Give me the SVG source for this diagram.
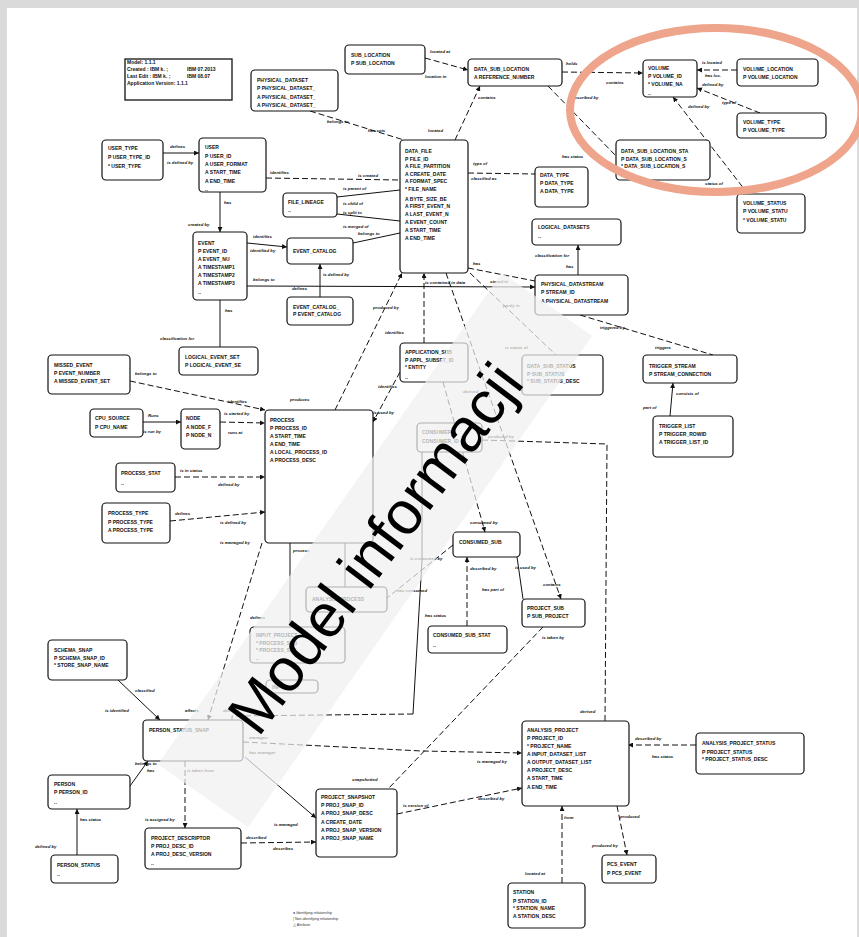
<svg xmlns="http://www.w3.org/2000/svg" width="859" height="937" viewBox="0 0 859 937">
<style>
.n rect{fill:#fff;stroke:#111;stroke-width:1.2}
.n text{font-family:"Liberation Sans",Arial,sans-serif;font-size:5px;font-weight:bold;fill:#111}
.c path{fill:none;stroke:#111;stroke-width:1}
.c .d{stroke-dasharray:6 3}
.lb text{font-family:"Liberation Sans",Arial,sans-serif;font-size:4.3px;font-weight:bold;font-style:italic;fill:#111}
.leg text{font-family:"Liberation Sans",Arial,sans-serif;font-size:5px;font-weight:bold;fill:#111}
</style>
<defs>
<marker id="a" viewBox="0 0 6 6" refX="6" refY="3" markerWidth="5" markerHeight="5" orient="auto" markerUnits="userSpaceOnUse"><path d="M0,0 L6,3 L0,6 z" fill="#111"/></marker>
</defs>
<rect width="859" height="937" fill="#dadada"/>
<rect x="7" y="8" width="850" height="929" fill="#fff"/>

<g id="legend" class="leg">
<rect x="125" y="59" width="107" height="41" fill="#fff" stroke="#111" stroke-width="1.3"/>
<text x="127" y="63.5">Model: 1.1.1</text>
<text x="127" y="70.5">Created : IBM k. ;</text><text x="187" y="70.5">IBM   07.2013</text>
<text x="127" y="78">Last Edit : IBM k. ;</text><text x="187" y="78">IBM      08.07</text>
<text x="127" y="85">Application Version: 1.1.1</text>
</g>

<g class="c" id="connectors">
<path class="d" d="M425,58 L468,70" marker-end="url(#a)"/>
<path class="d" d="M562,72 L643,73" marker-end="url(#a)"/>
<path class="d" d="M737,70 L697,70" marker-end="url(#a)"/>
<path class="d" d="M760,113 L697,88" marker-end="url(#a)"/>
<path class="d" d="M748,194 L673,97" marker-end="url(#a)"/>
<path class="d" d="M548,86 L617,157"/>
<path class="d" d="M455,140 L480,86" marker-end="url(#a)"/>
<path class="d" d="M310,111 L404,140"/>
<path d="M163,153 L199,153" marker-end="url(#a)"/>
<path class="d" d="M266,178 L400,180"/>
<path d="M337,197 L400,190"/>
<path d="M337,214 L400,221"/>
<path d="M353,243 L400,233"/>
<path d="M220,192 L220,232" marker-end="url(#a)"/>
<path d="M247,243 L287,247" marker-end="url(#a)"/>
<path d="M247,286 L535,287" marker-end="url(#a)"/>
<path d="M320,297 L320,264" marker-end="url(#a)"/>
<path d="M220,300 L220,347"/>
<path class="d" d="M130,381 L265,410" marker-end="url(#a)"/>
<path d="M143,422 L181,422" marker-end="url(#a)"/>
<path class="d" d="M220,422 L265,423" marker-end="url(#a)"/>
<path class="d" d="M175,477 L265,477" marker-end="url(#a)"/>
<path class="d" d="M170,521 L265,512" marker-end="url(#a)"/>
<path class="d" d="M335,410 L402,273" marker-end="url(#a)"/>
<path class="d" d="M424,343 L424,273" marker-end="url(#a)"/>
<path class="d" d="M400,372 L373,422" marker-end="url(#a)"/>
<path class="d" d="M443,382 L485,532" marker-end="url(#a)"/>
<path class="d" d="M446,273 L561,599" marker-end="url(#a)"/>
<path class="d" d="M468,268 L535,281"/>
<path class="d" d="M470,273 L556,355"/>
<path d="M578,275 L578,245" marker-end="url(#a)"/>
<path class="d" d="M468,173 L535,174"/>
<path class="d" d="M580,315 L713,355"/>
<path d="M670,416 L673,383" marker-end="url(#a)"/>
<path class="d" d="M482,440 L607,444 L605,721"/>
<path class="d" d="M467,626 L467,557" marker-end="url(#a)"/>
<path d="M517,557 L523,599"/>
<path class="d" d="M453,545 L387,598"/>
<path d="M422,452 L422,560 L413,714"/>
<path class="d" d="M413,714 L232,716 L232,720"/>
<path class="d" d="M262,543 L208,720" marker-end="url(#a)"/>
<path d="M118,680 L160,720" marker-end="url(#a)"/>
<path d="M130,786 L148,761" marker-end="url(#a)"/>
<path d="M77,855 L77,809" marker-end="url(#a)"/>
<path class="d" d="M185,761 L185,828" marker-end="url(#a)"/>
<path class="d" d="M241,843 L316,842" marker-end="url(#a)"/>
<path d="M245,757 L316,818" marker-end="url(#a)"/>
<path class="d" d="M243,742 L422,751 L522,753" marker-end="url(#a)"/>
<path class="d" d="M397,814 L522,788" marker-end="url(#a)"/>
<path class="d" d="M543,627 L388,789"/>
<path class="d" d="M696,745 L628,745" marker-end="url(#a)"/>
<path class="d" d="M617,806 L627,855" marker-end="url(#a)"/>
<path class="d" d="M562,883 L562,806" marker-end="url(#a)"/>
<path d="M290,543 L290,627"/>
<path d="M345,543 L345,587"/>
</g>

<g class="lb" id="labels">
<text x="430" y="53">located at</text><text x="425" y="78">location in</text>
<text x="566" y="65">holds</text><text x="606" y="84">contains</text>
<text x="702" y="64">is located</text><text x="705" y="77">has loc.</text><text x="702" y="86">defined by</text>
<text x="722" y="104">type of</text><text x="688" y="108">defined by</text>
<text x="705" y="185">status of</text>
<text x="572" y="99">described by</text><text x="562" y="158">has status</text>
<text x="478" y="99">contains</text><text x="428" y="132">located</text>
<text x="327" y="123">belongs to</text><text x="368" y="132">has sets</text>
<text x="170" y="148">defines</text><text x="167" y="164">is defined by</text>
<text x="270" y="174">identifies</text><text x="358" y="177">is created</text>
<text x="343" y="190">is parent of</text><text x="343" y="205">is child of</text>
<text x="343" y="214">is split to</text><text x="343" y="228">is merged of</text>
<text x="358" y="235">belongs to</text>
<text x="224" y="204">has</text><text x="188" y="226">created by</text>
<text x="253" y="238">identifies</text><text x="250" y="252">identified by</text>
<text x="253" y="281">belongs to</text><text x="425" y="284">is contained in data</text>
<text x="323" y="276">is defined by</text><text x="292" y="290">defines</text>
<text x="225" y="312">has</text><text x="160" y="340">classification for</text>
<text x="135" y="375">belongs to</text><text x="228" y="403">identifies</text>
<text x="148" y="417">Runs</text><text x="143" y="433">is run by</text>
<text x="224" y="415">is started by</text><text x="228" y="434">runs at</text>
<text x="180" y="472">is in status</text><text x="218" y="486">defined by</text>
<text x="175" y="515">defines</text><text x="220" y="524">is defined by</text>
<text x="373" y="309">produced by</text><text x="290" y="401">produces</text>
<text x="385" y="334">identifies</text>
<text x="378" y="388">identifies</text><text x="373" y="414">is used by</text>
<text x="463" y="393">derived</text><text x="470" y="524">consumed by</text>
<text x="543" y="586">contains</text>
<text x="473" y="265">has</text><text x="490" y="283">stored in</text>
<text x="503" y="307">partly in</text><text x="505" y="349">is status of</text>
<text x="535" y="257">classification for</text><text x="566" y="268">has</text>
<text x="473" y="165">type of</text><text x="471" y="180">classified as</text>
<text x="600" y="329">triggered by</text><text x="655" y="349">triggers</text>
<text x="676" y="395">consists of</text><text x="643" y="409">part of</text>
<text x="488" y="438">produced by</text><text x="580" y="713">derived</text>
<text x="470" y="570">described by</text><text x="425" y="617">has status</text>
<text x="515" y="569">is used by</text><text x="482" y="591">has part of</text>
<text x="410" y="560">is consumed by</text><text x="397" y="592">has consumed</text>
<text x="223" y="712">delivers</text><text x="185" y="712">affects</text>
<text x="220" y="544">is managed by</text>
<text x="135" y="692">classified</text><text x="105" y="712">is identified</text>
<text x="135" y="765">belongs to</text><text x="147" y="772">has</text>
<text x="80" y="821">has status</text><text x="35" y="848">defined by</text>
<text x="187" y="772">is taken from</text><text x="145" y="821">is assigned by</text>
<text x="246" y="839">described</text><text x="273" y="850">describes</text>
<text x="274" y="826">is managed</text>
<text x="249" y="739">manages</text><text x="249" y="754">has manager</text><text x="477" y="763">is managed by</text>
<text x="403" y="807">is version of</text><text x="478" y="800">described by</text>
<text x="542" y="639">is taken by</text><text x="352" y="781">snapshotted</text>
<text x="635" y="740">described by</text><text x="652" y="758">has status</text>
<text x="620" y="818">produced</text><text x="592" y="847">produced by</text>
<text x="564" y="819">from</text><text x="525" y="875">located at</text>
<text x="250" y="619">defines</text><text x="293" y="552">process</text>
</g>

<g id="n-physical-dataset" class="n"><rect x="251" y="70" width="87" height="41" rx="4"/>
<text x="257" y="82">PHYSICAL_DATASET</text><text x="257" y="90">P PHYSICAL_DATASET_</text><text x="257" y="98.5">A PHYSICAL_DATASET_</text><text x="257" y="107">A PHYSICAL_DATASET_</text></g>
<g id="n-sub-location" class="n"><rect x="345" y="45" width="80" height="29" rx="4"/>
<text x="351" y="57">SUB_LOCATION</text><text x="351" y="65">P SUB_LOCATION</text></g>
<g id="n-data-sub-location" class="n"><rect x="468" y="59" width="94" height="27" rx="4"/>
<text x="474" y="71">DATA_SUB_LOCATION</text><text x="474" y="78.5">A REFERENCE_NUMBER</text></g>
<g id="n-volume" class="n"><rect x="643" y="60" width="54" height="37" rx="4"/>
<text x="648" y="70">VOLUME</text><text x="648" y="78">P VOLUME_ID</text><text x="648" y="86">* VOLUME_NA</text><text x="648" y="95">..</text></g>
<g id="n-volume-location" class="n"><rect x="737" y="59" width="81" height="27" rx="4"/>
<text x="743" y="71">VOLUME_LOCATION</text><text x="743" y="78.5">P VOLUME_LOCATION</text></g>
<g id="n-volume-type" class="n"><rect x="737" y="113" width="89" height="25" rx="4"/>
<text x="743" y="124">VOLUME_TYPE</text><text x="743" y="131.5">P VOLUME_TYPE</text></g>
<g id="n-dsl-status" class="n"><rect x="616" y="140" width="94" height="40" rx="4"/>
<text x="621" y="153">DATA_SUB_LOCATION_STA</text><text x="621" y="160.5">P DATA_SUB_LOCATION_S</text><text x="621" y="168">* DATA_SUB_LOCATION_S</text></g>
<g id="n-volume-status" class="n"><rect x="737" y="194" width="68" height="39" rx="4"/>
<text x="743" y="205">VOLUME_STATUS</text><text x="743" y="213">P VOLUME_STATU</text><text x="743" y="222">* VOLUME_STATU</text></g>
<g id="n-data-type" class="n"><rect x="535" y="167" width="53" height="40" rx="4"/>
<text x="540" y="177">DATA_TYPE</text><text x="540" y="185">P DATA_TYPE</text><text x="540" y="193">A DATA_TYPE</text></g>
<g id="n-logical-dataset" class="n"><rect x="532" y="219" width="89" height="26" rx="4"/>
<text x="538" y="229">LOGICAL_DATASETS</text><text x="538" y="238">..</text></g>
<g id="n-data-file" class="n"><rect x="400" y="140" width="68" height="133" rx="4"/>
<text x="405" y="153">DATA_FILE</text><text x="405" y="160.5">P FILE_ID</text><text x="405" y="168">A FILE_PARTITION</text><text x="405" y="175.5">A CREATE_DATE</text><text x="405" y="183">A FORMAT_SPEC</text><text x="405" y="191">* FILE_NAME</text><text x="405" y="201">A BYTE_SIZE_BE</text><text x="405" y="208">A FIRST_EVENT_N</text><text x="405" y="216">A LAST_EVENT_N</text><text x="405" y="224">A EVENT_COUNT</text><text x="405" y="232">A START_TIME</text><text x="405" y="240">A END_TIME</text></g>
<g id="n-user-type" class="n"><rect x="102" y="140" width="61" height="40" rx="4"/>
<text x="108" y="150">USER_TYPE</text><text x="108" y="159">P USER_TYPE_ID</text><text x="108" y="168">* USER_TYPE</text></g>
<g id="n-user" class="n"><rect x="199" y="138" width="67" height="54" rx="4"/>
<text x="205" y="149">USER</text><text x="205" y="158">P USER_ID</text><text x="205" y="166">A USER_FORMAT</text><text x="205" y="174">A START_TIME</text><text x="205" y="183">A END_TIME</text><text x="205" y="191">..</text></g>
<g id="n-event" class="n"><rect x="193" y="232" width="54" height="68" rx="4"/>
<text x="198" y="245">EVENT</text><text x="198" y="253">P EVENT_ID</text><text x="198" y="261">A EVENT_NU</text><text x="198" y="269">A TIMESTAMP1</text><text x="198" y="277">A TIMESTAMP2</text><text x="198" y="285">A TIMESTAMP3</text><text x="198" y="294">..</text></g>
<g id="n-event-catalog" class="n"><rect x="287" y="238" width="66" height="26" rx="4"/>
<text x="293" y="253">EVENT_CATALOG</text></g>
<g id="n-file-lineage" class="n"><rect x="283" y="193" width="54" height="24" rx="4"/>
<text x="288" y="204">FILE_LINEAGE</text><text x="288" y="212">..</text></g>
<g id="n-event-catalog-type" class="n"><rect x="287" y="297" width="66" height="28" rx="4"/>
<text x="293" y="309">EVENT_CATALOG_</text><text x="293" y="316">P EVENT_CATALOG</text></g>
<g id="n-logical-event-set" class="n"><rect x="179" y="347" width="79" height="28" rx="4"/>
<text x="185" y="359">LOGICAL_EVENT_SET</text><text x="185" y="367">P LOGICAL_EVENT_SE</text></g>
<g id="n-missed-event" class="n"><rect x="48" y="355" width="82" height="39" rx="4"/>
<text x="54" y="367">MISSED_EVENT</text><text x="54" y="375">P EVENT_NUMBER</text><text x="54" y="383">A MISSED_EVENT_SET</text></g>
<g id="n-cpu-source" class="n"><rect x="90" y="409" width="53" height="28" rx="4"/>
<text x="95" y="420">CPU_SOURCE</text><text x="95" y="429">P CPU_NAME</text></g>
<g id="n-node" class="n"><rect x="181" y="409" width="39" height="40" rx="4"/>
<text x="186" y="420">NODE</text><text x="186" y="429">A NODE_F</text><text x="186" y="437">P NODE_N</text></g>
<g id="n-process" class="n"><rect x="265" y="410" width="108" height="133" rx="4"/>
<text x="270" y="422">PROCESS</text><text x="270" y="430">P PROCESS_ID</text><text x="270" y="438">A START_TIME</text><text x="270" y="446">A END_TIME</text><text x="270" y="454">A LOCAL_PROCESS_ID</text><text x="270" y="462">A PROCESS_DESC</text></g>
<g id="n-process-stat" class="n"><rect x="116" y="463" width="59" height="29" rx="4"/>
<text x="121" y="475">PROCESS_STAT</text><text x="121" y="485">..</text></g>
<g id="n-process-type" class="n"><rect x="102" y="503" width="68" height="40" rx="4"/>
<text x="108" y="515">PROCESS_TYPE</text><text x="108" y="524">P PROCESS_TYPE</text><text x="108" y="532">A PROCESS_TYPE</text></g>
<g id="n-application-sub" class="n"><rect x="400" y="343" width="68" height="39" rx="4"/>
<text x="405" y="354">APPLICATION_SUB</text><text x="405" y="362">P APPL_SUBSET_ID</text><text x="405" y="369">* ENTITY</text><text x="405" y="379">..</text></g>
<g id="n-data-sub-status" class="n"><rect x="522" y="355" width="81" height="40" rx="4"/>
<text x="527" y="368">DATA_SUB_STATUS</text><text x="527" y="375.5">P SUB_STATUS</text><text x="527" y="383">* SUB_STATUS_DESC</text></g>
<g id="n-trigger-stream" class="n"><rect x="643" y="355" width="94" height="28" rx="4"/>
<text x="649" y="368">TRIGGER_STREAM</text><text x="649" y="375.5">P STREAM_CONNECTION</text></g>
<g id="n-trigger-list" class="n"><rect x="653" y="416" width="80" height="41" rx="4"/>
<text x="659" y="428">TRIGGER_LIST</text><text x="659" y="436">P TRIGGER_ROWID</text><text x="659" y="444">A TRIGGER_LIST_ID</text></g>
<g id="n-physical-datastream" class="n"><rect x="535" y="275" width="93" height="40" rx="4"/>
<text x="541" y="285.5">PHYSICAL_DATASTREAM</text><text x="541" y="294">P STREAM_ID</text><text x="541" y="303">A PHYSICAL_DATASTREAM</text></g>
<g id="n-consumer" class="n"><rect x="417" y="423" width="65" height="29" rx="4"/>
<text x="422" y="434">CONSUMER</text><text x="422" y="443">CONSUMER_ID</text></g>
<g id="n-consumed-sub" class="n"><rect x="453" y="532" width="67" height="25" rx="4"/>
<text x="459" y="544">CONSUMED_SUB</text></g>
<g id="n-project-sub" class="n"><rect x="522" y="599" width="63" height="28" rx="4"/>
<text x="527" y="610">PROJECT_SUB</text><text x="527" y="618">P SUB_PROJECT</text></g>
<g id="n-consumed-sub-stat" class="n"><rect x="428" y="626" width="79" height="27" rx="4"/>
<text x="433" y="637">CONSUMED_SUB_STAT</text><text x="433" y="647">..</text></g>
<g id="n-analysis-process" class="n"><rect x="306" y="587" width="81" height="25" rx="4"/>
<text x="312" y="601">ANALYSIS_PROCESS</text></g>
<g id="n-input-project" class="n"><rect x="250" y="627" width="95" height="36" rx="4"/>
<text x="256" y="637">INPUT_PROJECT</text><text x="256" y="645">* PROCESS_SUB</text><text x="256" y="652">* PROCESS_SET</text><text x="256" y="660">..</text></g>
<g id="n-input-set" class="n"><rect x="266" y="680" width="52" height="13" rx="4"/>
<text x="272" y="689">INPUT_SET</text></g>
<g id="n-schema-snap" class="n"><rect x="48" y="640" width="79" height="40" rx="4"/>
<text x="54" y="652">SCHEMA_SNAP</text><text x="54" y="659.5">P SCHEMA_SNAP_ID</text><text x="54" y="667">* STORE_SNAP_NAME</text></g>
<g id="n-person-status-snap" class="n"><rect x="143" y="720" width="100" height="41" rx="4"/>
<text x="149" y="732">PERSON_STATUS_SNAP</text></g>
<g id="n-person" class="n"><rect x="48" y="775" width="82" height="34" rx="4"/>
<text x="54" y="786">PERSON</text><text x="54" y="794">P PERSON_ID</text><text x="54" y="804">..</text></g>
<g id="n-person-status" class="n"><rect x="51" y="855" width="67" height="28" rx="4"/>
<text x="57" y="867">PERSON_STATUS</text><text x="57" y="876">..</text></g>
<g id="n-project-descriptor" class="n"><rect x="145" y="828" width="96" height="41" rx="4"/>
<text x="151" y="840">PROJECT_DESCRIPTOR</text><text x="151" y="848">P PROJ_DESC_ID</text><text x="151" y="856">A PROJ_DESC_VERSION</text><text x="151" y="865">..</text></g>
<g id="n-project-snapshot" class="n"><rect x="316" y="789" width="81" height="68" rx="4"/>
<text x="321" y="799">PROJECT_SNAPSHOT</text><text x="321" y="807">P PROJ_SNAP_ID</text><text x="321" y="815">A PROJ_SNAP_DESC</text><text x="321" y="824">A CREATE_DATE</text><text x="321" y="832">A PROJ_SNAP_VERSION</text><text x="321" y="840">A PROJ_SNAP_NAME</text></g>
<g id="n-analysis-project" class="n"><rect x="522" y="721" width="107" height="85" rx="4"/>
<text x="527" y="732">ANALYSIS_PROJECT</text><text x="527" y="740">P PROJECT_ID</text><text x="527" y="748">* PROJECT_NAME</text><text x="527" y="756">A INPUT_DATASET_LIST</text><text x="527" y="764">A OUTPUT_DATASET_LIST</text><text x="527" y="772">A PROJECT_DESC</text><text x="527" y="780">A START_TIME</text><text x="527" y="789">A END_TIME</text></g>
<g id="n-analysis-project-status" class="n"><rect x="696" y="733" width="108" height="41" rx="4"/>
<text x="702" y="745">ANALYSIS_PROJECT_STATUS</text><text x="702" y="754">P PROJECT_STATUS</text><text x="702" y="761">* PROJECT_STATUS_DESC</text></g>
<g id="n-pcs-event" class="n"><rect x="602" y="855" width="54" height="28" rx="4"/>
<text x="607" y="866">PCS_EVENT</text><text x="607" y="875">P PCS_EVENT</text></g>
<g id="n-station" class="n"><rect x="508" y="883" width="77" height="45" rx="4"/>
<text x="513" y="894">STATION</text><text x="513" y="903">P STATION_ID</text><text x="513" y="910">* STATION_NAME</text><text x="513" y="918">A STATION_DESC</text></g>

<g id="key" style="font-family:'Liberation Sans',Arial,sans-serif;font-size:3.6px;fill:#333">
<text x="293" y="914">● Identifying relationship</text>
<text x="293" y="920">| Non-identifying relationship</text>
<text x="293" y="926">△ Attribute</text>
</g>

<rect x="75" y="495" width="600" height="110" fill="#f0f0f0" fill-opacity="0.72" transform="rotate(-55 375 550)"/>
<text x="0" y="0" transform="translate(392,561) rotate(-53)" text-anchor="middle" font-family="'Liberation Sans',Arial,sans-serif" font-size="61" fill="#000">Model informacji</text>

<ellipse cx="716" cy="110" rx="146" ry="82" fill="none" stroke="#eea58c" stroke-width="8"/>
</svg>
